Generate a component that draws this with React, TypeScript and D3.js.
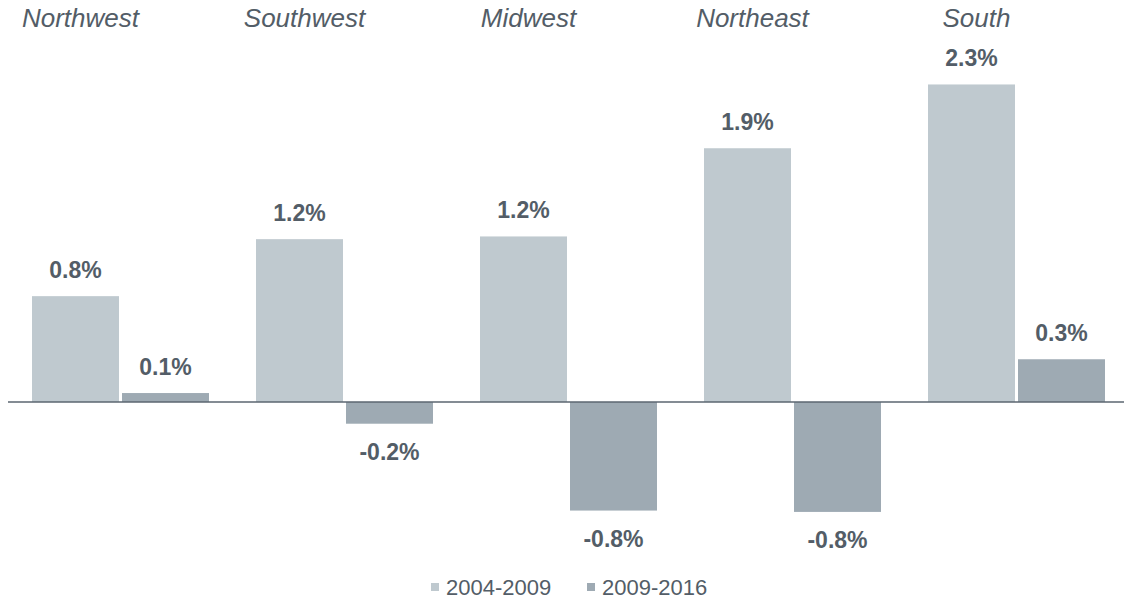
import * as d3 from 'd3';

const regions = ['Northwest', 'Southwest', 'Midwest', 'Northeast', 'South'];
const periods = ['2004-2009', '2009-2016'];
const growth0409 = [0.78, 1.2, 1.22, 1.87, 2.34];
const growth0916 = [0.066, -0.16, -0.8, -0.81, 0.315];

const colors = ['#bfc9cf', '#9eaab3'];
const textColor = '#535d67';

export default function App() {
  const width = 1124;
  const height = 601;
  const baseY = 402;
  const unit = 135.7;

  const x = d3.scaleBand().domain(regions).range([8, 1128]);
  const inner = d3.scaleBand().domain(periods).range([24, 201]).paddingInner(1 / 30);
  const y = d3.scaleLinear().domain([0, 1]).range([baseY, baseY - unit]);

  const series = [growth0409, growth0916];
  const fmt = (v: number) => v.toFixed(1) + '%';

  return (
    <svg width={width} height={height} style={{ display: 'block', fontFamily: 'Liberation Sans, Arial, sans-serif' }}>
      <style>{`body{margin:0}`}</style>

      {regions.map((r, i) => (
        <g key={r} transform={`translate(${x(r)},0)`}>
          {series.map((vals, s) => {
            const v = vals[i];
            const bx = inner(periods[s])!;
            const top = Math.min(y(v), y(0));
            const h = Math.abs(y(v) - y(0));
            return (
              <g key={s}>
                <rect x={bx} y={top} width={inner.bandwidth()} height={h} fill={colors[s]} />
                <text
                  x={bx + inner.bandwidth() / 2}
                  y={v >= 0 ? y(v) - 18 : y(v) + 36}
                  textAnchor="middle"
                  fontSize={23}
                  fontWeight="bold"
                  fill={textColor}
                >
                  {fmt(v)}
                </text>
              </g>
            );
          })}
          <text
            x={inner(periods[0])! + inner.bandwidth() / 2 + 5}
            y={27}
            textAnchor="middle"
            fontSize={26}
            fontStyle="italic"
            fill={textColor}
          >
            {r}
          </text>
        </g>
      ))}

      <line x1={8} x2={width} y1={y(0)} y2={y(0)} stroke="#5b6670" strokeWidth={1.6} />

      {periods.map((p, i) => (
        <g key={p} transform={`translate(${431 + i * 156},0)`}>
          <rect x={0} y={583} width={8} height={8} fill={colors[i]} />
          <text x={15} y={595} fontSize={22} fill={textColor}>{p}</text>
        </g>
      ))}
    </svg>
  );
}
